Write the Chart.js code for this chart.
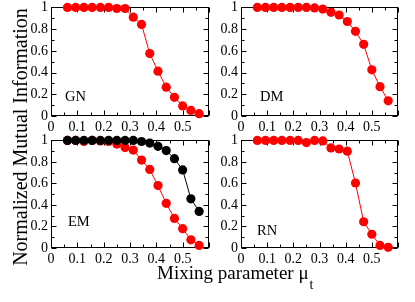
<!DOCTYPE html>
<html>
<head>
<meta charset="utf-8">
<script src="https://cdn.jsdelivr.net/npm/chart.js@4"></script>
<style>
  body { margin: 0; background: #fff; width: 415px; height: 302px; position: relative; overflow: hidden; font-family: "Liberation Serif", serif; color: #000; }
  .panel { position: absolute; }
  .tag { position: absolute; font-size: 14.5px; line-height: 1; white-space: nowrap; }
  #ylab { position: absolute; left: -130px; top: 127px; width: 300px; height: 20px; line-height: 20px; font-size: 20px; text-align: center; transform: rotate(-90deg); white-space: nowrap; }
  #xlab { position: absolute; left: 157px; top: 263px; font-size: 19px; line-height: 1; white-space: nowrap; }
  #xlab span { font-size: 14px; position: relative; top: 10px; margin-left: 1px; }
</style>
</head>
<body>
<div class="panel" id="p1"><canvas id="c1"></canvas></div>
<div class="panel" id="p2"><canvas id="c2"></canvas></div>
<div class="panel" id="p3"><canvas id="c3"></canvas></div>
<div class="panel" id="p4"><canvas id="c4"></canvas></div>
<div class="tag" style="left:65px;top:89px">GN</div>
<div class="tag" style="left:260px;top:89px">DM</div>
<div class="tag" style="left:68px;top:214px">EM</div>
<div class="tag" style="left:257px;top:223px">RN</div>
<div id="ylab">Normalized Mutual Information</div>
<div id="xlab">Mixing parameter μ<span>t</span></div>
<script>
// mixing parameter values (x)
const mu = [0.0625, 0.09375, 0.125, 0.15625, 0.1875, 0.21875, 0.25, 0.28125, 0.3125,
  0.34375, 0.375, 0.40625, 0.4375, 0.46875, 0.5, 0.53125, 0.5625];

// normalized mutual information per method
const gnNMI = [1, 1, 1, 1, 1, 1, 0.99, 0.99, 0.91, 0.843, 0.575, 0.413, 0.265, 0.172, 0.093, 0.051, 0.021];
const dmNMI = [1, 1, 1, 1, 1, 1, 1, 0.995, 0.985, 0.955, 0.93, 0.87, 0.78, 0.66, 0.425, 0.27, 0.14];
const emRed = [1, 1, 0.99, 1, 0.995, 0.99, 0.966, 0.933, 0.91, 0.817, 0.73, 0.58, 0.415, 0.275, 0.18, 0.076, 0.024];
const emBlack = [1, 1, 1, 1, 1, 1, 1, 1, 1, 0.99, 0.975, 0.945, 0.905, 0.83, 0.726, 0.457, 0.34];
const rnNMI = [1, 1, 1, 1, 1, 1, 0.98, 1, 0.995, 0.93, 0.92, 0.9, 0.604, 0.244, 0.128, 0.024, 0.006];

const xTickLabels = ['0', '0.1', '0.2', '0.3', '0.4', '0.5'];
const yTickLabels = ['0', '0.2', '0.4', '0.6', '0.8', '1'];

const FONT = { family: 'Liberation Serif', size: 14 };

// box around the plot with inward ticks on all four sides
const frame = {
  id: 'frame',
  beforeDatasetsDraw(chart) {
    const { ctx, chartArea: a, scales: { x, y } } = chart;
    const L = Math.round(a.left) + 0.5, R = Math.round(a.right) - 0.5;
    const T = Math.round(a.top) + 0.5, B = Math.round(a.bottom) - 0.5;
    ctx.save();
    ctx.strokeStyle = '#000';
    ctx.lineWidth = 1;
    ctx.strokeRect(L, T, R - L, B - T);
    ctx.beginPath();
    const marks = (scale) => {
      const vals = scale.ticks.map(t => t.value);
      const out = [];
      vals.forEach((v, i) => {
        out.push([v, 5]);
        if (i < vals.length - 1) out.push([(v + vals[i + 1]) / 2, 3]);
      });
      return out;
    };
    marks(x).forEach(([v, len]) => {
      const p = Math.round(x.getPixelForValue(v)) + 0.5;
      ctx.moveTo(p, B); ctx.lineTo(p, B - len);
      ctx.moveTo(p, T); ctx.lineTo(p, T + len);
    });
    marks(y).forEach(([v, len]) => {
      const p = Math.round(y.getPixelForValue(v)) + 0.5;
      ctx.moveTo(L, p); ctx.lineTo(L + len, p);
      ctx.moveTo(R, p); ctx.lineTo(R - len, p);
    });
    ctx.stroke();
    ctx.restore();
  }
};

function series(values, color) {
  return {
    data: mu.map((m, i) => ({ x: m, y: values[i] })),
    borderColor: color,
    backgroundColor: color,
    borderWidth: 1,
    pointRadius: 4.6,
    pointBorderWidth: 0,
    pointHoverRadius: 4.6,
    clip: false
  };
}

function makePanel(id, box, datasets) {
  const wrap = document.getElementById('p' + id);
  wrap.style.left = (box.left - 40) + 'px';
  wrap.style.top = (box.top - 10) + 'px';
  wrap.style.width = (40 + box.w + 10) + 'px';
  wrap.style.height = (10 + box.h + 20) + 'px';
  new Chart(document.getElementById('c' + id), {
    type: 'line',
    data: { datasets },
    options: {
      responsive: true,
      maintainAspectRatio: false,
      animation: false,
      layout: { padding: { top: 10, right: 10, left: 0, bottom: 0 } },
      plugins: { legend: { display: false }, tooltip: { enabled: false } },
      scales: {
        x: {
          type: 'linear', min: 0, max: 0.6,
          border: { display: false },
          grid: { display: false, drawTicks: false },
          ticks: { stepSize: 0.1, padding: 3, color: '#000', font: FONT, maxRotation: 0, autoSkip: false,
            callback: (v, i) => xTickLabels[i] ?? '' },
          afterFit: s => { s.height = 20; }
        },
        y: {
          min: 0, max: 1,
          border: { display: false },
          grid: { display: false, drawTicks: false },
          ticks: { stepSize: 0.2, padding: 3, color: '#000', font: FONT, autoSkip: false,
            callback: (v, i) => yTickLabels[i] ?? '' },
          afterFit: s => { s.width = 40; }
        }
      }
    },
    plugins: [frame]
  });
}

makePanel(1, { left: 51, top: 6, w: 158, h: 110 }, [series(gnNMI, '#ff0000')]);
makePanel(2, { left: 241, top: 6, w: 157, h: 110 }, [series(dmNMI, '#ff0000')]);
makePanel(3, { left: 51, top: 139, w: 158, h: 109 }, [series(emBlack, '#000000'), series(emRed, '#ff0000')]);
makePanel(4, { left: 241, top: 139, w: 157, h: 109 }, [series(rnNMI, '#ff0000')]);
</script>
</body>
</html>
